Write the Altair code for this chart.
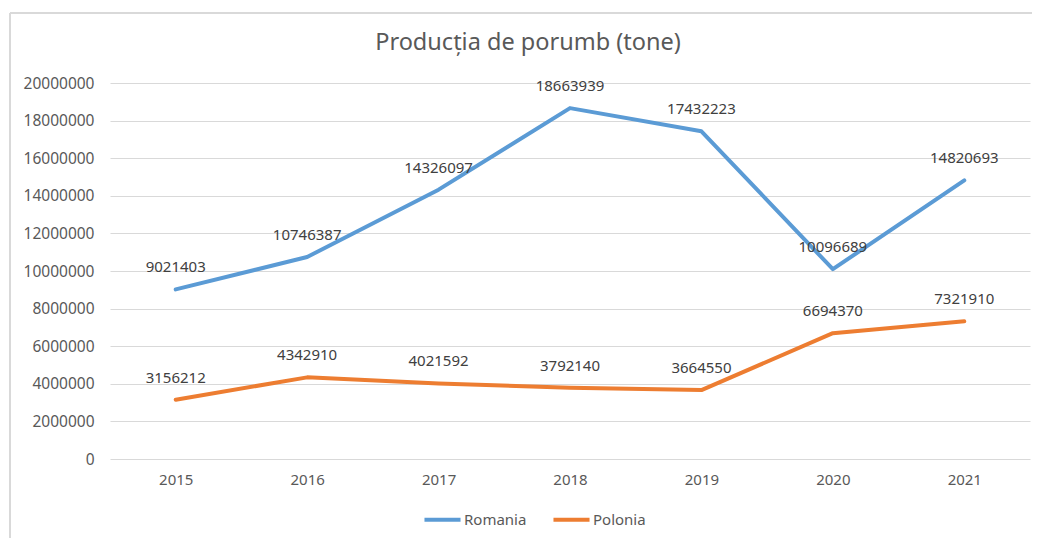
import altair as alt
import pandas as pd

years = ["2015", "2016", "2017", "2018", "2019", "2020", "2021"]
romania = [9021403, 10746387, 14326097, 18663939, 17432223, 10096689, 14820693]
polonia = [3156212, 4342910, 4021592, 3792140, 3664550, 6694370, 7321910]
series_names = ["Romania", "Polonia"]
colors = ["#5B9BD5", "#ED7D31"]
y_ticks = list(range(0, 20000001, 2000000))

rows = []
for name, vals in zip(series_names, [romania, polonia]):
    for yr, v in zip(years, vals):
        rows.append({"An": yr, "Tara": name, "Valoare": v})
df = pd.DataFrame(rows)

FONT = "Noto Sans"

base = alt.Chart(df).encode(
    x=alt.X("An:N", sort=years, scale=alt.Scale(paddingInner=0, paddingOuter=0, align=0.5),
            axis=alt.Axis(title=None, labelAngle=0, ticks=False, domain=False, grid=False,
                          labelFontSize=15, labelColor="#595959", labelPadding=13, labelFont=FONT)),
    y=alt.Y("Valoare:Q", scale=alt.Scale(domain=[0, 20000000], nice=False),
            axis=alt.Axis(title=None, values=y_ticks, format="d", ticks=False, domain=False,
                          gridColor="#D9D9D9", gridWidth=1, labelFontSize=15.5, labelColor="#595959",
                          labelPadding=16, labelFont=FONT)),
    color=alt.Color("Tara:N", sort=series_names,
                    scale=alt.Scale(domain=series_names, range=colors),
                    legend=alt.Legend(title=None, orient="none", direction="horizontal",
                                      legendX=312, legendY=416, symbolType="stroke",
                                      symbolSize=1300, symbolStrokeWidth=4,
                                      labelFontSize=15, labelColor="#595959", labelFont=FONT,
                                      columnPadding=18, symbolOffset=0, labelOffset=1)),
)

lines = base.mark_line(strokeWidth=4, strokeCap="round", strokeJoin="round")
labels = base.mark_text(dy=-22, fontSize=15, color="#404040", font=FONT).encode(
    text=alt.Text("Valoare:Q", format="d"), color=alt.value("#404040"))

border_left = alt.Chart(df).mark_rule(color="#D9D9D9", strokeWidth=1.5).encode(
    x=alt.value(-100), y=alt.value(-70), y2=alt.value(480))
border_top = alt.Chart(df).mark_rule(color="#D9D9D9", strokeWidth=1.5).encode(
    x=alt.value(-100), x2=alt.value(940), y=alt.value(-70))

chart = alt.layer(border_left, border_top, lines, labels).properties(
    width=920, height=376,
    title=alt.Title("Producția de porumb (tone)", fontSize=23.5, color="#595959", font=FONT,
                    fontWeight="normal", anchor="middle", dx=-42, offset=-42),
    autosize=alt.AutoSizeParams(type="none"),
    padding={"left": 102, "top": 75, "right": 2, "bottom": 79},
).configure_view(stroke=None)

chart.save("out.html", embed_options={"renderer": "svg", "actions": False})
